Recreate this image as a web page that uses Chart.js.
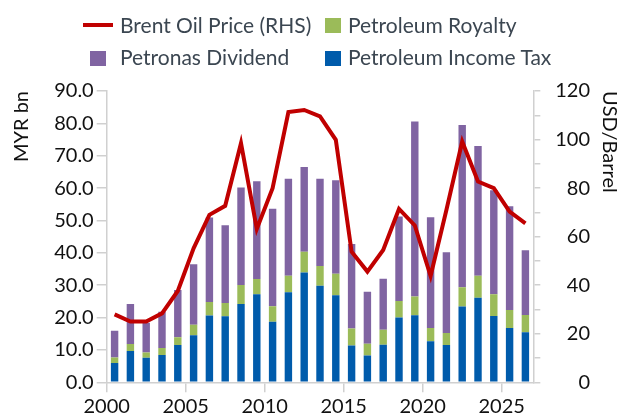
<!DOCTYPE html>
<html>
<head>
<meta charset="utf-8">
<script src="https://cdn.jsdelivr.net/npm/chart.js@4.4.1/dist/chart.umd.min.js"></script>
<style>
  html, body { margin: 0; padding: 0; background: #fff; }
  #wrap { position: relative; width: 620px; height: 419px; font-family: Lato, sans-serif; }
  #wrap canvas { position: absolute; left: 0; top: 0; }
  .lg { position: absolute; font-size: 21px; line-height: 25.2px; color: #3b4651; white-space: nowrap; }
  .sw { position: absolute; }
  #rtitle { position: absolute; font-size: 20px; line-height: 24px; color: #111; white-space: nowrap;
            transform-origin: 0 0; transform: rotate(90deg); }
</style>
</head>
<body>
<div id="wrap">
  <canvas id="revenue-chart" width="620" height="419"></canvas>
  <div id="rtitle">USD/Barrel</div>
</div>
<script>
// years shown as bars
const years = [2000, 2001, 2002, 2003, 2004, 2005, 2006, 2007, 2008, 2009,
               2010, 2011, 2012, 2013, 2014, 2015, 2016, 2017, 2018, 2019,
               2020, 2021, 2022, 2023, 2024, 2025, 2026];

// MYR bn
const incomeTax = [6.0, 9.7, 7.6, 8.4, 11.5, 14.5, 20.6, 20.4, 24.2, 27.2,
                   18.7, 27.8, 33.9, 29.8, 26.9, 11.4, 8.3, 11.6, 20.0, 20.7,
                   12.7, 11.5, 23.4, 26.1, 20.5, 16.8, 15.5];
const royalty = [1.7, 2.1, 1.6, 2.2, 2.4, 3.3, 4.2, 4.1, 5.9, 4.7,
                 4.8, 5.1, 6.4, 6.1, 6.6, 5.2, 3.6, 4.6, 5.1, 5.8,
                 4.1, 3.7, 6.0, 6.8, 6.7, 5.5, 5.3];
const dividend = [8.2, 12.4, 9.2, 11.2, 14.6, 18.7, 26.1, 24.0, 30.1, 30.2,
                  30.1, 30.0, 26.2, 27.0, 28.9, 26.1, 16.1, 15.8, 26.1, 54.1,
                  34.2, 25.0, 50.1, 40.1, 32.1, 32.1, 20.0];

// USD/barrel (RHS)
const brent = [28.0, 25.0, 25.0, 28.4, 37.6, 55.2, 69.0, 72.7, 98.5, 63.2,
               80.0, 111.3, 112.2, 109.5, 99.9, 53.8, 45.6, 54.5, 71.4, 64.6,
               43.8, 71.0, 99.2, 82.7, 80.0, 70.3, 65.5];

// tick labels
const leftTicks = [0, 10, 20, 30, 40, 50, 60, 70, 80, 90];
const rightTicks = [0, 10, 20, 30, 40, 50, 60, 70, 80, 90, 100, 110, 120];
const rightLabels = [0, 20, 40, 60, 80, 100, 120];
const yearTicks = [2000, 2005, 2010, 2015, 2020, 2025];

const axisGrey = '#d0d0d0';
const tickFont = { family: 'Lato', size: 20 };
const tickColor = '#111';

const ctx = document.getElementById('revenue-chart').getContext('2d');
const chart = new Chart(ctx, {
    type: 'bar',
    data: {
        labels: years,
        datasets: [
            { label: 'Petroleum Income Tax', data: incomeTax, backgroundColor: '#005bab', order: 1 },
            { label: 'Petroleum Royalty', data: royalty, backgroundColor: '#9bbb59', order: 1 },
            { label: 'Petronas Dividend', data: dividend, backgroundColor: '#8064a2', order: 1 },
            {
                type: 'line',
                label: 'Brent Oil Price (RHS)',
                data: brent,
                yAxisID: 'y2',
                borderColor: '#c00000',
                backgroundColor: '#c00000',
                borderWidth: 4,
                pointRadius: 0,
                tension: 0,
                order: 0
            }
        ]
    },
    options: {
        responsive: false,
        animation: false,
        barPercentage: 0.47,
        categoryPercentage: 1,
        layout: { padding: { top: 91, left: 0, right: 30, bottom: 0 } },
        plugins: { legend: { display: false }, tooltip: { enabled: false } },
        scales: {
            x: { type: 'category', stacked: true, offset: true, display: false },
            years: {
                type: 'linear',
                position: 'bottom',
                offset: false,
                min: 2000,
                max: 2027,
                afterBuildTicks: function(axis) {
                    axis.ticks = yearTicks.map(v => ({ value: v }));
                },
                afterFit: function(axis) { axis.height = 36.7; },
                border: { color: axisGrey, width: 1.5 },
                grid: { offset: false, drawOnChartArea: false, tickLength: 10, color: axisGrey, lineWidth: 1.5 },
                ticks: {
                    font: tickFont, color: tickColor, padding: 2, maxRotation: 0, autoSkip: false,
                    callback: v => String(v)
                }
            },
            y: {
                stacked: true,
                min: 0,
                max: 90,
                afterBuildTicks: function(axis) {
                    axis.ticks = leftTicks.map(v => ({ value: v }));
                },
                afterFit: function(axis) { axis.width = 106.7; },
                border: { color: axisGrey, width: 1.5 },
                grid: { drawOnChartArea: false, tickLength: 10, color: axisGrey, lineWidth: 1.5 },
                ticks: { font: tickFont, color: tickColor, padding: 3, callback: v => v.toFixed(1) },
                title: {
                    display: true, text: 'MYR bn', align: 'end',
                    font: tickFont, color: tickColor, padding: { top: 10, bottom: 0 }
                }
            },
            y2: {
                position: 'right',
                min: 0,
                max: 120,
                afterBuildTicks: function(axis) {
                    axis.ticks = rightTicks.map(v => ({ value: v }));
                },
                afterFit: function(axis) { axis.width = 56.7; },
                border: { color: axisGrey, width: 1.5 },
                grid: { drawOnChartArea: false, tickLength: 7, color: axisGrey, lineWidth: 1.5 },
                ticks: {
                    font: tickFont, color: tickColor, crossAlign: 'far', autoSkip: false,
                    callback: v => rightLabels.includes(v) ? String(v) : ''
                }
            }
        }
    }
});

// legend laid out in two columns like the original
const legendItems = [
    { ds: 3, line: true, x: 83, textX: 120, y: 11.8 },
    { ds: 1, x: 325, textX: 348, y: 11.8 },
    { ds: 2, x: 90, textX: 120, y: 44.3 },
    { ds: 0, x: 325, textX: 348, y: 44.3 }
];
const wrap = document.getElementById('wrap');
legendItems.forEach(function(item) {
    const ds = chart.data.datasets[item.ds];
    const sw = document.createElement('div');
    sw.className = 'sw';
    if (item.line) {
        sw.style.cssText = 'left:' + item.x + 'px;top:' + (item.y + 11) + 'px;width:30px;height:4.5px;background:' + ds.borderColor;
    } else {
        sw.style.cssText = 'left:' + item.x + 'px;top:' + (item.y + 6.5) + 'px;width:16px;height:15px;background:' + ds.backgroundColor;
    }
    wrap.appendChild(sw);
    const txt = document.createElement('div');
    txt.className = 'lg';
    txt.textContent = ds.label;
    txt.style.left = item.textX + 'px';
    txt.style.top = item.y + 'px';
    wrap.appendChild(txt);
});

// right-hand axis title, top-aligned with the plot
const rt = document.getElementById('rtitle');
rt.style.left = (chart.chartArea.right + 90) + 'px';
rt.style.top = (chart.chartArea.top) + 'px';
</script>
</body>
</html>
